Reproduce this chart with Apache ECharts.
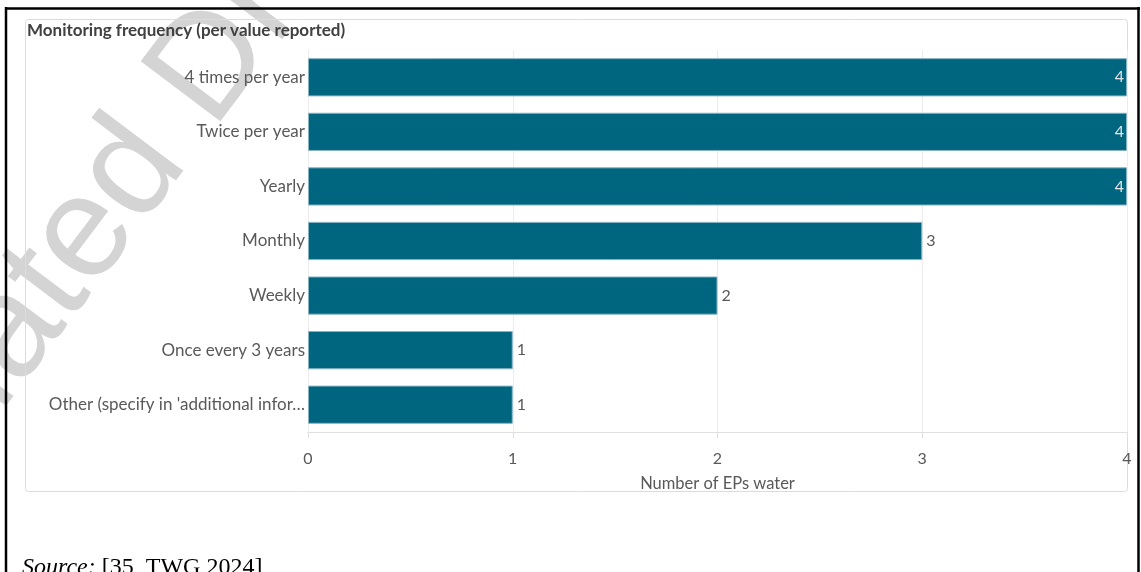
<!DOCTYPE html>
<html>
<head>
<meta charset="utf-8">
<script src="https://cdn.jsdelivr.net/npm/echarts@6/dist/echarts.min.js"></script>
<style>
html,body{margin:0;padding:0;background:#fff;}
#chart{width:1141px;height:572px;}
</style>
</head>
<body>
<div id="chart"></div>
<script>
var categories = ["4 times per year", "Twice per year", "Yearly", "Monthly", "Weekly", "Once every 3 years", "Other (specify in 'additional infor\u2026"];
var values = [4, 4, 4, 3, 2, 1, 1];
var xTicks = [0, 1, 2, 3, 4];
var chartTitle = "Monitoring frequency (per value reported)";
var xAxisName = "Number of EPs water";
var sourceLabel = "Source:";
var sourceRef = " [35, TWG 2024]";
var watermarkText = "Outdated Draft";

var maxVal = xTicks[xTicks.length - 1];
var chart = echarts.init(document.getElementById('chart'), null, {renderer: 'canvas'});

var seriesData = values.map(function (v) {
  if (v >= maxVal) {
    return {value: v, label: {position: 'insideRight', distance: 3, color: '#e6e6e6'}};
  }
  return {value: v};
});

var option = {
  backgroundColor: '#ffffff',
  animation: false,
  textStyle: {fontFamily: 'Lato'},
  grid: {left: 308, right: 14, top: 50, bottom: 140, containLabel: false},
  xAxis: {
    type: 'value',
    min: xTicks[0],
    max: maxVal,
    interval: 1,
    name: xAxisName,
    nameLocation: 'middle',
    nameGap: 43,
    nameTextStyle: {color: '#595959', fontSize: 16.5, fontFamily: 'Lato'},
    axisLine: {show: true, lineStyle: {color: '#e0e0e0', width: 1}},
    axisTick: {show: true, length: 6, lineStyle: {color: '#e0e0e0'}},
    axisLabel: {color: '#595959', fontSize: 16, margin: 19, fontFamily: 'Lato'},
    splitLine: {show: true, lineStyle: {color: '#ececec', width: 1}}
  },
  yAxis: {
    type: 'category',
    data: categories,
    inverse: true,
    axisLine: {show: false},
    axisTick: {show: false},
    axisLabel: {color: '#595959', fontSize: 17, margin: 3, fontFamily: 'Lato'},
    splitLine: {show: false}
  },
  series: [{
    type: 'bar',
    data: seriesData,
    barCategoryGap: '30%',
    itemStyle: {color: '#00657f', borderColor: '#86b3c2', borderWidth: 1},
    label: {show: true, position: 'right', distance: 4, color: '#595959', fontSize: 16, fontFamily: 'Lato'},
    z: 2
  }],
  graphic: [
    {
      type: 'text', z: -10, silent: true,
      x: -144, y: 659,
      rotation: 53 * Math.PI / 180,
      style: {text: watermarkText, font: '145px "Liberation Sans"', fill: '#d4d4d4', textAlign: 'left', textVerticalAlign: 'bottom'}
    },
    {
      type: 'rect', z: -5, silent: true,
      shape: {x: 25.5, y: 19.5, width: 1102, height: 472, r: 3},
      style: {fill: 'none', stroke: '#dcdcdc', lineWidth: 1}
    },
    {
      type: 'text', z: 5, silent: true,
      x: 27, y: 31,
      style: {text: chartTitle, font: 'bold 17px Lato', fill: '#404040', textVerticalAlign: 'middle'}
    },
    {
      type: 'line', z: 10, silent: true,
      shape: {x1: 6, y1: 7, x2: 6, y2: 572},
      style: {stroke: '#000', lineWidth: 2.5}
    },
    {
      type: 'line', z: 10, silent: true,
      shape: {x1: 5, y1: 8.5, x2: 1140, y2: 8.5},
      style: {stroke: '#000', lineWidth: 2.5}
    },
    {
      type: 'line', z: 10, silent: true,
      shape: {x1: 1138.5, y1: 7, x2: 1138.5, y2: 572},
      style: {stroke: '#000', lineWidth: 2.5}
    },
    {
      type: 'text', z: 5, silent: true,
      x: 22, y: 568,
      style: {
        text: '{i|' + sourceLabel + '}{n|' + sourceRef + '}',
        textVerticalAlign: 'middle',
        rich: {
          i: {font: 'italic 24px "Liberation Serif"', fill: '#000'},
          n: {font: '24px "Liberation Serif"', fill: '#000'}
        }
      }
    }
  ]
};
chart.setOption(option);
</script>
</body>
</html>
